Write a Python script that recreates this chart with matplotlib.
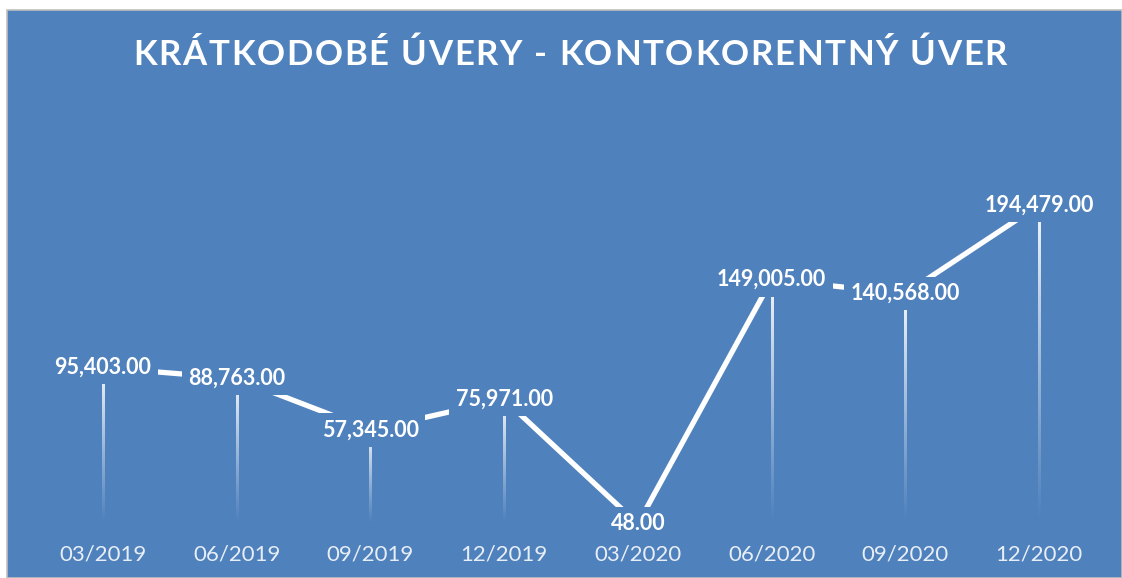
import numpy as np
import matplotlib
matplotlib.use("Agg")
import matplotlib.pyplot as plt
from matplotlib.patches import Rectangle

# údaje z grafu
obdobia = ['03/2019', '06/2019', '09/2019', '12/2019', '03/2020', '06/2020', '09/2020', '12/2020']
hodnoty = [95403.00, 88763.00, 57345.00, 75971.00, 48.00, 149005.00, 140568.00, 194479.00]
nadpis = 'KRÁTKODOBÉ ÚVERY - KONTOKORENTNÝ ÚVER'

modra = '#4F81BD'
W, H = 1122, 578

fig = plt.figure(figsize=(W / 100, H / 100), dpi=100, facecolor='white')

# modré pozadie grafu s tenkým sivým okrajom
fig.patches.append(Rectangle((7 / W, 0), 1 - 7 / W, 1 - 10 / H, transform=fig.transFigure,
                             facecolor=modra, edgecolor='#BFBFBF', linewidth=1.2, zorder=-5))

ax = fig.add_axes([36 / W, (H - 524) / H, 1070 / W, 328 / H])
ax.set_zorder(2)
ax.set_facecolor('none')
for s in ax.spines.values():
    s.set_visible(False)
ax.set_yticks([])
x = np.arange(len(obdobia))
ax.set_xticks(x)
ax.set_xticklabels(obdobia, fontsize=16, color='#E8EEF6', family='Lato')
ax.tick_params(axis='x', length=0, pad=15)

# zvislé čiary so slabnúcim prechodom smerom nadol
gradient = np.zeros((200, 1, 4))
gradient[..., :3] = 1.0
gradient[:, 0, 3] = np.linspace(0.95, 0.0, 200) ** 1.1
polsirka = 1.1 / 133.75
for xi, v in zip(x, hodnoty):
    ax.imshow(gradient, extent=(xi - polsirka, xi + polsirka, 0, v), aspect='auto',
              interpolation='bilinear', zorder=2)

ax.plot(x, hodnoty, color='white', linewidth=3.8, solid_capstyle='butt', zorder=3)

for xi, v in zip(x, hodnoty):
    ax.text(xi, v, f'{v:,.2f}', ha='center', va='center', fontsize=15.5, fontweight='bold',
            color='white', family='Lato', zorder=4, clip_on=False,
            bbox=dict(boxstyle='square,pad=0.3', facecolor=modra, edgecolor='none'))

ax.set_xlim(-0.5, len(obdobia) - 0.5)
ax.set_ylim(0, 200000)

# nadpis s rozšíreným rozostupom písmen
renderer = fig.canvas.get_renderer()
kw = dict(fontsize=25, fontweight='bold', color='white', family='Lato', va='center', ha='left')
sirky = []
for ch in nadpis:
    t = fig.text(0, 0, ch if ch != ' ' else 'a a', **kw)
    w = t.get_window_extent(renderer).width
    if ch == ' ':
        t2 = fig.text(0, 0, 'aa', **kw)
        w = w - t2.get_window_extent(renderer).width
        t2.remove()
    sirky.append(w)
    t.remove()
cielova = 874
medzera = (cielova - sum(sirky)) / (len(nadpis) - 1)
xpos = 570 - cielova / 2
for ch, w in zip(nadpis, sirky):
    if ch != ' ':
        fig.text(xpos / W, 1 - 55 / H, ch, **kw)
    xpos += w + medzera

fig.savefig('out.png', dpi=100, facecolor='white')
